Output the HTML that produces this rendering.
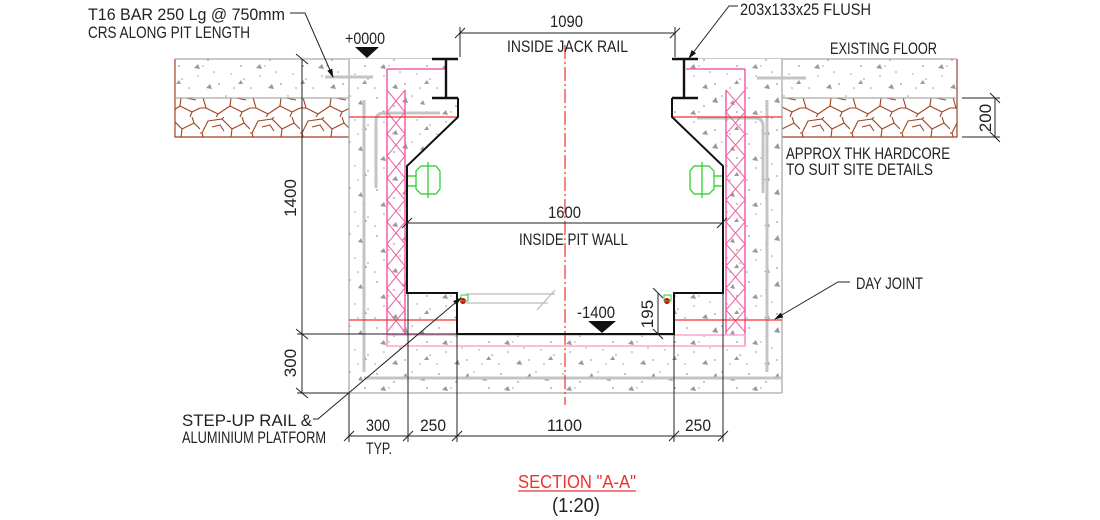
<!DOCTYPE html>
<html><head><meta charset="utf-8"><style>
html,body{margin:0;padding:0;background:#fff;}
svg{display:block;}
text{font-family:"Liberation Sans",sans-serif;fill:#222;}
</style></head><body>
<svg width="1100" height="520" viewBox="0 0 1100 520" xmlns="http://www.w3.org/2000/svg">
<defs>
<pattern id="conc" width="62" height="46" patternUnits="userSpaceOnUse">
<rect width="62" height="46" fill="#fff"/>
<g fill="#999">
<circle cx="5" cy="6" r="0.9"/><circle cx="22" cy="14" r="0.9"/><circle cx="40" cy="4" r="0.8"/>
<circle cx="55" cy="20" r="0.9"/><circle cx="12" cy="30" r="0.8"/><circle cx="33" cy="38" r="0.9"/>
<circle cx="48" cy="42" r="0.8"/><circle cx="28" cy="26" r="0.8"/><circle cx="58" cy="33" r="0.8"/>
<circle cx="3" cy="42" r="0.8"/><circle cx="17" cy="20" r="0.7"/><circle cx="45" cy="28" r="0.7"/>
<path d="M30 10 l4 -5 l2 6 z"/><path d="M8 22 l4 -4 l2 5 z"/><path d="M48 12 l3 -4 l2 5 z"/>
<path d="M20 42 l4 -4 l2 5 z"/><path d="M52 38 l3 -4 l2 4 z"/>
</g>
</pattern>
<pattern id="hard" width="50" height="39" patternUnits="userSpaceOnUse">
<rect width="50" height="39" fill="#fff"/>
<g fill="none" stroke="#a0421e" stroke-width="1.1">
<path d="M8 4 L22 2 L32 12 L30 28 L18 36 L6 30 L2 16 Z"/>
<path d="M32 12 L44 6 L50 12 M30 28 L42 34 L50 30"/>
<path d="M0 16 L2 16 M0 30 L6 30 M22 2 L24 0 M18 36 L16 39 M42 34 L40 39 M44 6 L42 0"/>
<path d="M12 10 L20 8 L24 14 M36 20 L46 22"/>
</g>
</pattern>
<marker id="ar" viewBox="0 0 10 10" refX="9" refY="5" markerWidth="9" markerHeight="9" orient="auto"><path d="M0 2 L10 5 L0 8 z" fill="#111"/></marker>
</defs>

<rect x="175" y="59" width="174" height="39" fill="url(#conc)"/>
<rect x="782" y="59" width="175" height="39" fill="url(#conc)"/>
<rect x="175" y="98" width="174" height="39" fill="url(#hard)"/>
<rect x="782" y="98" width="175" height="39" fill="url(#hard)"/>
<g stroke="#a0421e" stroke-width="1.2" fill="none">
<path d="M175 59 V137 H349"/><path d="M957 59 V137 H782"/>
</g>
<g stroke="#aaa" stroke-width="1.2">
<line x1="175" y1="59" x2="446" y2="59"/><line x1="684" y1="59" x2="957" y2="59"/>
<line x1="175" y1="98" x2="349" y2="98"/><line x1="782" y1="98" x2="957" y2="98"/>
</g>

<rect x="349" y="59" width="433" height="334" fill="url(#conc)"/>
<path d="M446 50 H684 V98 H672 V117 L723 166 V293 H674 V334 H457 V293 H407 V166 L458 117 V98 H446 Z" fill="#fff"/>
<g stroke="#aaa" stroke-width="1.3" fill="none">
<line x1="349" y1="59" x2="349" y2="393"/><line x1="782" y1="59" x2="782" y2="393"/>
<line x1="349" y1="393" x2="782" y2="393"/>
</g>
<g stroke="#c4c4c4" stroke-width="3" fill="none">
<path d="M364 100 V372"/><path d="M364 378 H782"/><path d="M767 100 V372"/>
<path d="M440 113 H384 Q376 113 376 121 V188"/>
<path d="M697 118 H755 Q763 118 763 126 V193"/>
<path d="M325 77 H373"/><path d="M757 78 H806"/>
</g>
<g stroke="#f060a8" stroke-width="1.5" fill="none">
<line x1="387" y1="69" x2="387" y2="346"/><line x1="405" y1="90" x2="405" y2="334"/>
<line x1="387" y1="69" x2="445" y2="69"/>
<line x1="745" y1="69" x2="745" y2="346"/><line x1="726" y1="90" x2="726" y2="334"/>
<line x1="686" y1="69" x2="745" y2="69"/>
<path d="M387 90 L405 112 L387 134 L405 156 L387 178 L405 200 L387 222 L405 244 L387 266 L405 288 L387 310 L405 332" stroke-width="1"/>
<path d="M405 90 L387 112 L405 134 L387 156 L405 178 L387 200 L405 222 L387 244 L405 266 L387 288 L405 310 L387 332" stroke-width="1"/>
<path d="M745 90 L726 112 L745 134 L726 156 L745 178 L726 200 L745 222 L726 244 L745 266 L726 288 L745 310 L726 332" stroke-width="1"/>
<path d="M726 90 L745 112 L726 134 L745 156 L726 178 L745 200 L726 222 L745 244 L726 266 L745 288 L726 310 L745 332" stroke-width="1"/>
<rect x="387" y="335" width="358" height="11" stroke="#f8a8cc"/>
</g>
<g stroke="#f03030" stroke-width="1.2">
<line x1="349" y1="117" x2="458" y2="117"/><line x1="672" y1="117" x2="782" y2="117"/>
<line x1="349" y1="320" x2="457" y2="320"/><line x1="674" y1="320" x2="782" y2="320"/>
<line x1="565" y1="45" x2="565" y2="405" stroke-dasharray="14 3 2 3"/>
</g>
<g stroke="#111" stroke-width="2" fill="none">
<path d="M458 98 V117 L407 166 V293 H457 V334 H674 V293 H723 V166 L672 117 V98"/>
<path d="M432 59 H458 M446 59 V98 M432 98 H458" stroke-width="2.4"/>
<path d="M672 59 H698 M684 59 V98 M672 98 H698" stroke-width="2.4"/>
</g>
<g stroke="#22cc22" stroke-width="1.2" fill="none">
<path d="M408 176 H416 M408 186 H416"/><path d="M416 171 L421 166 L436 166 L440 171 V189 L436 194 L421 194 L416 189 Z"/><line x1="428" y1="162" x2="428" y2="198"/>
<path d="M722 176 H714 M722 186 H714"/><path d="M714 171 L709 166 L694 166 L690 171 V189 L694 194 L709 194 L714 189 Z"/><line x1="702" y1="162" x2="702" y2="198"/>
</g>
<g stroke="#bbb" stroke-width="1.2" fill="none">
<line x1="466" y1="294" x2="555" y2="294"/><line x1="466" y1="303" x2="548" y2="303"/><line x1="555" y1="290" x2="537" y2="310"/>
</g>
<g fill="#d00"><circle cx="463" cy="301" r="3"/><circle cx="667" cy="301" r="3"/></g>
<g stroke="#3c3" fill="none" stroke-width="1"><rect x="461" y="295" width="7" height="6"/><rect x="664" y="295" width="7" height="6"/></g>

<g stroke="#222" stroke-width="1" fill="none">
<line x1="460" y1="27" x2="460" y2="57"/><line x1="675" y1="27" x2="675" y2="57"/>
<line x1="460" y1="33" x2="675" y2="33"/>
<line x1="455" y1="38" x2="465" y2="28"/><line x1="670" y1="38" x2="680" y2="28"/>
<line x1="407" y1="223" x2="722" y2="223"/>
<line x1="402" y1="228" x2="412" y2="218"/><line x1="717" y1="228" x2="727" y2="218"/>
<line x1="302" y1="59" x2="302" y2="393"/>
<line x1="297" y1="334" x2="457" y2="334"/><line x1="297" y1="393" x2="349" y2="393"/>
<line x1="296" y1="329" x2="308" y2="339"/><line x1="296" y1="388" x2="308" y2="398"/>
<line x1="296" y1="54" x2="308" y2="64"/>
<line x1="349" y1="393" x2="349" y2="442"/><line x1="408" y1="293" x2="408" y2="442"/>
<line x1="457" y1="334" x2="457" y2="442"/><line x1="674" y1="334" x2="674" y2="442"/>
<line x1="723" y1="293" x2="723" y2="442"/>
<line x1="349" y1="436" x2="723" y2="436"/>
<line x1="344" y1="441" x2="354" y2="431"/><line x1="403" y1="441" x2="413" y2="431"/>
<line x1="452" y1="441" x2="462" y2="431"/><line x1="669" y1="441" x2="679" y2="431"/>
<line x1="718" y1="441" x2="728" y2="431"/>
<line x1="658" y1="293" x2="658" y2="334"/><line x1="653" y1="288" x2="663" y2="298"/><line x1="653" y1="329" x2="663" y2="339"/>
<line x1="962" y1="98" x2="1000" y2="98"/><line x1="962" y1="137" x2="1000" y2="137"/>
<line x1="995" y1="98" x2="995" y2="137"/><line x1="990" y1="93" x2="1000" y2="103"/><line x1="990" y1="132" x2="1000" y2="142"/>
<path d="M290 13 H305 L333 77" marker-end="url(#ar)"/>
<path d="M738 6 H729 L689 58" marker-end="url(#ar)"/>
<path d="M850 282 H838 L775 319" marker-end="url(#ar)"/>
<path d="M313 419 H318 L461 298" marker-end="url(#ar)"/>
</g>
<polygon points="355,47 379,47 367,58" fill="#111"/>
<polygon points="588,321 616,321 602,333" fill="#111"/>

<g font-size="17">
<text x="88" y="20" textLength="197" lengthAdjust="spacingAndGlyphs">T16 BAR 250 Lg @ 750mm</text>
<text x="88" y="38" textLength="162" lengthAdjust="spacingAndGlyphs">CRS ALONG PIT LENGTH</text>
<text x="345" y="44" textLength="40" lengthAdjust="spacingAndGlyphs">+0000</text>
<text x="550" y="27" textLength="33" lengthAdjust="spacingAndGlyphs">1090</text>
<text x="507" y="52" textLength="121" lengthAdjust="spacingAndGlyphs">INSIDE JACK RAIL</text>
<text x="740" y="15" textLength="131" lengthAdjust="spacingAndGlyphs">203x133x25 FLUSH</text>
<text x="830" y="54" textLength="107" lengthAdjust="spacingAndGlyphs">EXISTING FLOOR</text>
<text x="786" y="159" textLength="164" lengthAdjust="spacingAndGlyphs">APPROX THK HARDCORE</text>
<text x="786" y="175" textLength="147" lengthAdjust="spacingAndGlyphs">TO SUIT SITE DETAILS</text>
<text x="548" y="218" textLength="33" lengthAdjust="spacingAndGlyphs">1600</text>
<text x="519" y="245" textLength="109" lengthAdjust="spacingAndGlyphs">INSIDE PIT WALL</text>
<text x="856" y="289" textLength="67" lengthAdjust="spacingAndGlyphs">DAY JOINT</text>
<text x="577" y="318" textLength="38" lengthAdjust="spacingAndGlyphs">-1400</text>
<text x="182" y="426" textLength="130" lengthAdjust="spacingAndGlyphs">STEP-UP RAIL &amp;</text>
<text x="182" y="443" textLength="144" lengthAdjust="spacingAndGlyphs">ALUMINIUM PLATFORM</text>
<text x="366" y="431" textLength="24" lengthAdjust="spacingAndGlyphs">300</text>
<text x="366" y="454" textLength="26" lengthAdjust="spacingAndGlyphs">TYP.</text>
<text x="420" y="431" textLength="26" lengthAdjust="spacingAndGlyphs">250</text>
<text x="547" y="431" textLength="35" lengthAdjust="spacingAndGlyphs">1100</text>
<text x="685" y="431" textLength="26" lengthAdjust="spacingAndGlyphs">250</text>
<text transform="translate(296,198) rotate(-90)" text-anchor="middle">1400</text>
<text transform="translate(296,363) rotate(-90)" text-anchor="middle">300</text>
<text transform="translate(653,314) rotate(-90)" text-anchor="middle">195</text>
<text transform="translate(991,118) rotate(-90)" text-anchor="middle">200</text>
</g>
<text x="518" y="488" font-size="18" textLength="118" lengthAdjust="spacingAndGlyphs" style="fill:#f03030">SECTION "A-A"</text>
<line x1="518" y1="491" x2="636" y2="491" stroke="#f03030" stroke-width="1.2"/>
<text x="552" y="512" font-size="20" textLength="48" lengthAdjust="spacingAndGlyphs">(1:20)</text>
</svg>
</body></html>
